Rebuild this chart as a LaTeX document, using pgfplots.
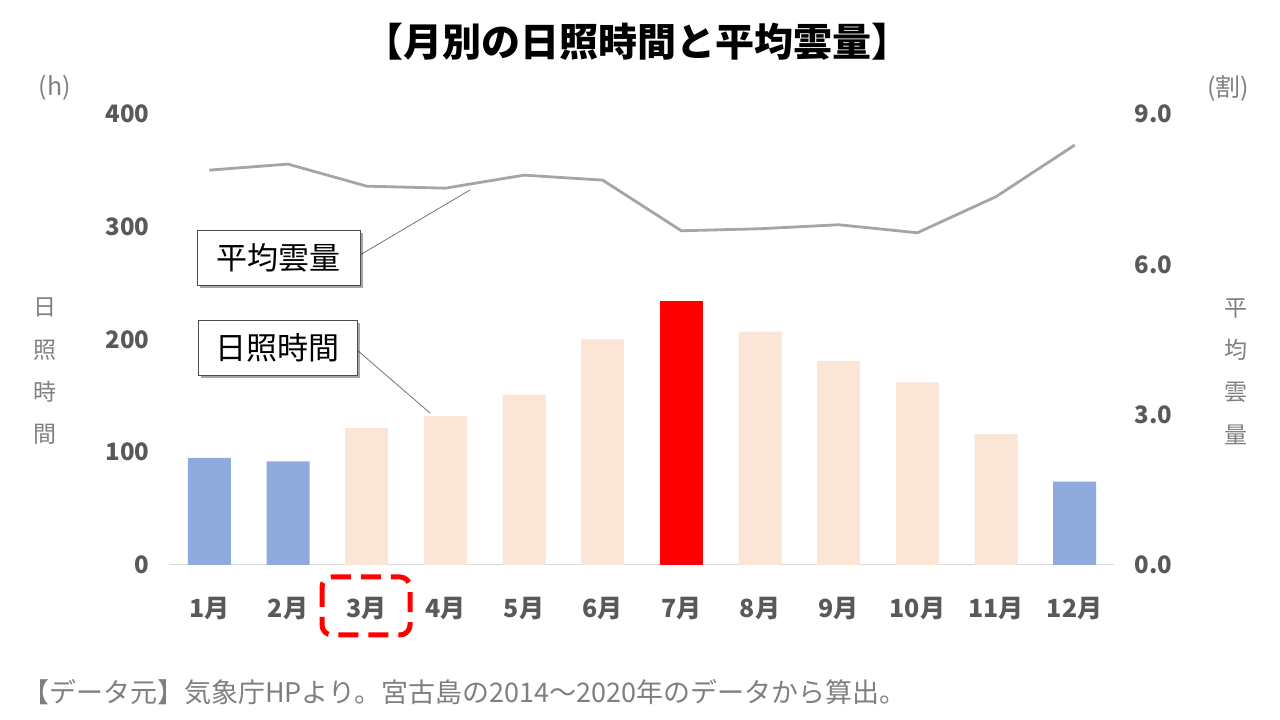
\documentclass[border=0pt]{standalone}
\usepackage{fontspec}
\setmainfont{Noto Sans CJK JP}
\usepackage{pgfplots}
\pgfplotsset{compat=1.18}
\usetikzlibrary{shadows}
\definecolor{barblue}{HTML}{8FAADC}
\definecolor{barpeach}{HTML}{FBE5D6}
\definecolor{barred}{HTML}{FF0000}
\definecolor{linegray}{HTML}{A5A5A5}
\definecolor{tickgray}{HTML}{595959}
\definecolor{labgray}{HTML}{7F7F7F}
\definecolor{axisgray}{HTML}{D9D9D9}
\begin{document}
\begin{tikzpicture}[x=1pt,y=1pt]
\path[use as bounding box] (0,0) rectangle (1280,720);
\begin{axis}[at={(170pt,155pt)}, anchor=south west, scale only axis,
  width=944pt, height=451pt,
  xmin=0.5, xmax=12.5, ymin=0, ymax=400,
  ybar, bar width=43pt,
  xtick={1,...,12},
  xticklabels={1月,2月,3月,4月,5月,6月,7月,8月,9月,10月,11月,12月},
  ytick={0,100,200,300,400},
  axis x line*=bottom, axis y line*=left,
  y axis line style={draw=none},
  x axis line style={draw=axisgray, line width=1pt, -},
  major tick length=0pt,
  /pgf/number format/assume math mode=true,
  tick label style={font=\fontsize{24}{24}\selectfont\bfseries, text=tickgray},
  xticklabel style={font=\fontsize{25}{25}\selectfont\bfseries, yshift=-29pt},
  yticklabel style={xshift=-17pt},
  clip=false]
\addplot[fill=barblue, draw=none, bar shift=0pt] coordinates {(1,95) (2,92) (12,74)};
\addplot[fill=barpeach, draw=none, bar shift=0pt] coordinates {(3,121.5) (4,132) (5,151) (6,200) (8,207) (9,181) (10,162) (11,116)};
\addplot[fill=barred, draw=none, bar shift=0pt] coordinates {(7,234)};
\end{axis}
\begin{axis}[at={(170pt,155pt)}, anchor=south west, scale only axis,
  width=944pt, height=451pt,
  xmin=0.5, xmax=12.5, ymin=0, ymax=9,
  ytick={0,3,6,9},
  axis y line*=right, axis x line=none,
  y axis line style={draw=none},
  major tick length=0pt,
  /pgf/number format/assume math mode=true,
  yticklabel style={/pgf/number format/.cd, fixed, fixed zerofill, precision=1, /tikz/.cd,
    font=\fontsize{24}{24}\selectfont\bfseries, text=tickgray, xshift=17pt},
  clip=false]
\addplot[linegray, line width=2.8pt, mark=none, line join=round] coordinates {
(1,7.88) (2,8.0) (3,7.56) (4,7.52) (5,7.78) (6,7.68) (7,6.67) (8,6.71) (9,6.79) (10,6.63) (11,7.35) (12,8.38)};
\end{axis}
% title
\node[font=\fontsize{39}{39}\selectfont\bfseries] at (637,678) {【月別の日照時間と平均雲量】};
% units
\node[font=\fontsize{25}{25}\selectfont, text=labgray] at (55,632) {(h)};
\node[font=\fontsize{25}{25}\selectfont, text=labgray] at (1228,632) {(割)};
% stacked axis labels
\node[font=\fontsize{23}{42.3}\selectfont, text=labgray, align=center] at (45,348.5) {日\\照\\時\\間};
\node[font=\fontsize{23}{42.3}\selectfont, text=labgray, align=center] at (1236,348.5) {平\\均\\雲\\量};
% leader lines
\draw[black!55, line width=0.8pt] (360,465) -- (470,530);
\draw[black!55, line width=0.8pt] (357,370) -- (430,307);
% callout boxes
\node[draw=black!70, line width=0.8pt, fill=white, drop shadow={shadow xshift=3pt, shadow yshift=-3pt, opacity=0.35, fill=black},
  minimum width=163pt, minimum height=55pt, inner sep=0pt, font=\fontsize{31}{31}\selectfont] at (278.5,462.5) {平均雲量};
\node[draw=black!70, line width=0.8pt, fill=white, drop shadow={shadow xshift=3pt, shadow yshift=-3pt, opacity=0.35, fill=black},
  minimum width=159pt, minimum height=55pt, inner sep=0pt, font=\fontsize{31}{31}\selectfont] at (277.5,372.5) {日照時間};
% dashed highlight
\draw[barred, line width=5pt, dash pattern=on 20pt off 10pt, rounded corners=10pt] (322,143) rectangle (410,85);
% footnote
\node[anchor=west, font=\fontsize{27}{27}\selectfont, text=labgray, inner sep=0pt] at (22,28) {【データ元】気象庁HPより。宮古島の2014～2020年のデータから算出。};
\end{tikzpicture}
\end{document}
